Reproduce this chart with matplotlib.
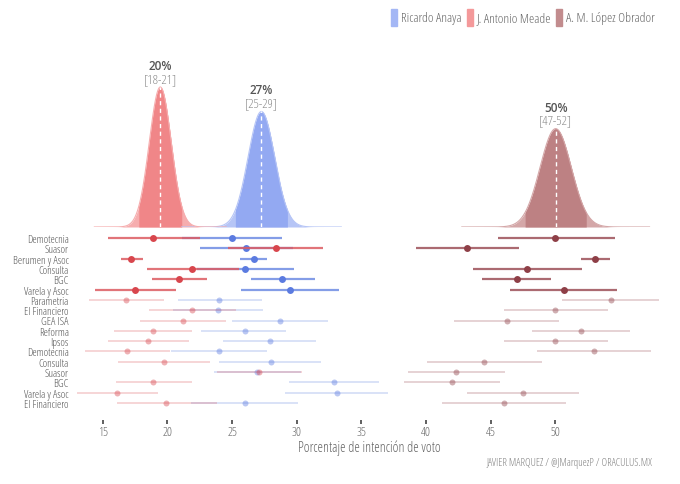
import numpy as np
import matplotlib
matplotlib.use("Agg")
import matplotlib.pyplot as plt
from matplotlib.patches import Rectangle
from matplotlib import font_manager as fm

# ---------------- data ----------------
candidates = ["Ricardo Anaya", "J. Antonio Meade", "A. M. López Obrador"]
est_mean = [27.27, 19.45, 50.03]
est_sd = [1.03, 0.85, 1.21]
est_pct = ["27%", "20%", "50%"]
est_ci = ["[25-29]", "[18-21]", "[47-52]"]

polls = ["Demotecnia", "Suasor", "Berumen y Asoc", "Consulta", "BGC", "Varela y Asoc",
         "Parametria", "El Financiero", "GEA ISA", "Reforma", "Ipsos", "Demotecnia",
         "Consulta", "Suasor", "BGC", "Varela y Asoc", "El Financiero"]
n_recent = 6

anaya = [25.0, 26.1, 26.7, 26.0, 28.9, 29.5, 24.0, 23.9, 28.7, 26.0, 27.9, 24.0, 28.0, 26.9, 32.9, 33.1, 26.0]
anaya_lo = [21.1, 22.5, 25.6, 22.3, 26.5, 25.7, 20.8, 20.4, 25.0, 22.6, 24.3, 20.3, 24.0, 23.6, 29.4, 29.1, 21.8]
anaya_hi = [28.9, 29.7, 27.7, 29.8, 31.4, 33.3, 27.3, 27.4, 32.4, 29.2, 31.5, 27.7, 31.9, 30.3, 36.4, 37.1, 30.1]

meade = [18.9, 28.4, 17.2, 21.9, 20.9, 17.5, 16.8, 21.9, 21.2, 18.9, 18.5, 16.9, 19.7, 27.1, 18.9, 16.1, 19.9]
meade_lo = [15.4, 24.7, 16.4, 18.4, 18.8, 14.4, 13.9, 18.6, 17.9, 15.9, 15.4, 13.6, 16.2, 23.8, 16.0, 13.0, 16.1]
meade_hi = [22.5, 32.0, 18.1, 25.5, 23.1, 20.7, 19.7, 25.3, 24.5, 21.9, 21.7, 20.2, 23.3, 30.4, 21.9, 19.3, 23.8]

amlo = [50.0, 43.2, 53.1, 47.8, 47.0, 50.7, 54.3, 50.0, 46.3, 52.0, 50.0, 53.0, 44.5, 42.3, 42.0, 47.5, 46.0]
amlo_lo = [45.6, 39.2, 52.0, 43.6, 44.3, 46.5, 50.5, 46.0, 42.2, 48.2, 46.0, 48.6, 40.1, 38.6, 38.3, 43.2, 41.2]
amlo_hi = [54.6, 47.2, 54.2, 52.1, 49.7, 54.8, 58.0, 54.1, 50.3, 55.8, 54.1, 57.4, 49.0, 46.1, 45.7, 51.8, 50.8]

xticks = [15, 20, 25, 30, 35, 40, 45, 50]


# ---------------- font: look for an installed condensed sans ----------------
def pick_condensed():
    best, best_score = None, -1
    for f in fm.fontManager.ttflist:
        if f.style != "normal":
            continue
        w = f.weight if isinstance(f.weight, int) else 400
        if not (250 <= w <= 450):
            continue
        st = f.stretch
        fname = f.fname.lower()
        cond = ("condensed" in str(st) or "narrow" in str(st) or
                (isinstance(st, (int, float)) and st < 500) or
                "condensed" in fname or "narrow" in fname or "condensed" in f.name.lower())
        if not cond or "mono" in fname:
            continue
        score = 1 if ("semicondensed" in fname or "semi" in str(st)) else 2
        for k, pref in enumerate(["open sans", "roboto", "noto sans", "liberation sans", "dejavu sans", "lato"]):
            if pref in f.name.lower():
                score += 10 * (6 - k)
                break
        if any(b in fname for b in ("bold", "thin", "black", "medium")):
            score -= 30
        if "light" in fname:
            score -= 5
        if score > best_score:
            best, best_score = f, score
    return best


cf = pick_condensed()


def fpz(size):
    if cf is not None:
        p = fm.FontProperties(fname=cf.fname)
        p.set_size(size)
        return p
    return fm.FontProperties(family=["Roboto", "DejaVu Sans"], size=size)


# ---------------- styles ----------------
fill_dark = ["#93a9f2", "#f08688", "#bd8183"]
fill_tail = ["#b6c5f6", "#f6adae", "#d4a7a8"]
dot_col = ["#5b7be0", "#d8464d", "#8e3f47"]
line_col = ["#6f8ce3", "#dc5c62", "#9c5058"]
legend_col = ["#a4b7f5", "#f4999a", "#c28c8e"]
text_col = "#666666"

W, H = 680, 485
fig = plt.figure(figsize=(W / 100, H / 100), dpi=100)
xlim = (12.8, 58.5)
left = 74.3 / W
width = (665.2 - 74.3) / W

ax_top = fig.add_axes([left, 1 - 228 / H, width, 188 / H])
ax_bot = fig.add_axes([left, 1 - 410.2 / H, width, 177.4 / H])

# ---------------- densities ----------------
for i in range(3):
    m, s = est_mean[i], est_sd[i]
    xs = np.linspace(m - 6 * s, m + 6 * s, 600)
    ys = np.exp(-0.5 * ((xs - m) / s) ** 2) / (s * np.sqrt(2 * np.pi))
    ax_top.fill_between(xs, 0, ys, color=fill_tail[i], lw=0)
    ax_top.plot(xs, ys, color=fill_tail[i], lw=0.8)
    inner = (xs >= m - 1.96 * s) & (xs <= m + 1.96 * s)
    ax_top.fill_between(xs[inner], 0, ys[inner], color=fill_dark[i], lw=0)
    peak = 1 / (s * np.sqrt(2 * np.pi))
    ax_top.plot([m, m], [0, peak], color="white", lw=1, ls=(0, (3, 2.5)))
    ax_top.annotate(est_ci[i], (m, peak), xytext=(0, 2), textcoords="offset pixels",
                    ha="center", va="bottom", color="#8a8a8a", fontproperties=fpz(9.5))
    ax_top.annotate(est_pct[i], (m, peak), xytext=(0, 15), textcoords="offset pixels",
                    ha="center", va="bottom", fontsize=8.5, color="#555555",
                    fontweight="semibold", family=["Open Sans", "DejaVu Sans"])

ax_top.set_xlim(*xlim)
ax_top.set_ylim(0, 0.4693 * 188 / 140)
ax_top.axis("off")

# ---------------- poll dots ----------------
rows = np.arange(len(polls))
series = [(anaya, anaya_lo, anaya_hi), (meade, meade_lo, meade_hi), (amlo, amlo_lo, amlo_hi)]
for i, (v, lo, hi) in enumerate(series):
    for r in rows:
        recent = r < n_recent
        la = 0.85 if recent else 0.3
        da = 1.0 if recent else 0.42
        lw = 1.6 if recent else 1.2
        ms = 5.0 if recent else 4.3
        ax_bot.plot([lo[r], hi[r]], [r, r], color=line_col[i], lw=lw, alpha=la,
                    solid_capstyle="butt")
        ax_bot.plot(v[r], r, "o", color=dot_col[i], ms=ms, mec="none", alpha=da)

for sp in ["top", "right", "left"]:
    ax_bot.spines[sp].set_visible(False)
ax_bot.spines["bottom"].set_position(("outward", 7.5))
ax_bot.spines["bottom"].set_visible(False)

ax_bot.set_xlim(*xlim)
ax_bot.set_ylim(len(polls) - 1 + 0.6, -0.6)
ax_bot.set_yticks(rows)
ax_bot.set_yticklabels(polls)
ax_bot.set_xticks(xticks)
ax_bot.set_xticklabels([str(t) for t in xticks])
ax_bot.tick_params(axis="y", length=0, pad=4)
ax_bot.tick_params(axis="x", length=3, width=1.2, color="#444444", pad=1)
for lab in ax_bot.get_yticklabels():
    lab.set_fontproperties(fpz(7.9))
    lab.set_color("#555555")
for lab in ax_bot.get_xticklabels():
    lab.set_fontproperties(fpz(9))
    lab.set_color(text_col)

fig.text((74.3 + 665.2) / 2 / W, 1 - 448 / H, "Porcentaje de intención de voto",
         color=text_col, ha="center", va="center", fontproperties=fpz(10.1))

# ---------------- legend ----------------
fig.canvas.draw()
renderer = fig.canvas.get_renderer()
x0 = 391
for i in range(3):
    fig.patches.append(Rectangle((x0 / W, 1 - 27 / H), 6 / W, 17 / H,
                                 transform=fig.transFigure, color=legend_col[i]))
    t = fig.text((x0 + 10) / W, 1 - 18.5 / H, candidates[i],
                 color=text_col, va="center", ha="left", fontproperties=fpz(9.6))
    bb = t.get_window_extent(renderer)
    x0 = bb.x1 + 5

fig.text(652 / W, 1 - 464 / H, "JAVIER MARQUEZ / @JMarquezP / ORACULUS.MX",
         color="#808080", ha="right", va="center", fontproperties=fpz(7.7))

fig.savefig("out.png", dpi=100, facecolor="white")
